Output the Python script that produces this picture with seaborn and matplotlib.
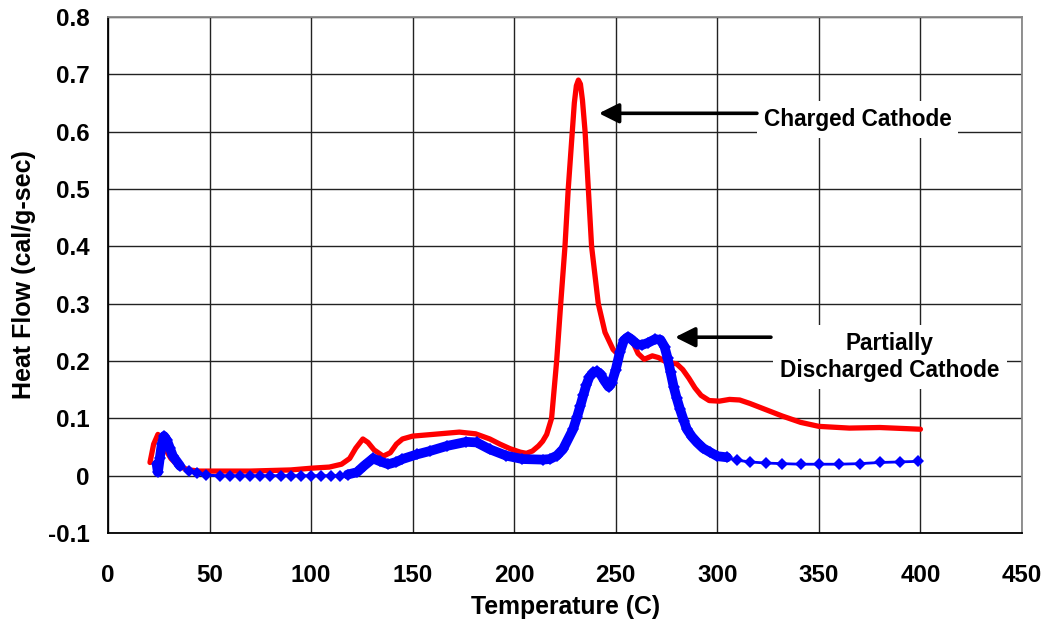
import numpy as np
import pandas as pd
import matplotlib
matplotlib.use("Agg")
import matplotlib.pyplot as plt
from matplotlib.ticker import MultipleLocator
import seaborn as sns

# ---- data ----
charged_temp = [20.7, 22.5, 24.6, 26.5, 28.5, 31, 35, 40, 45, 50, 60, 70, 80, 90, 100,
                109, 115, 119, 122, 125.5, 128, 131, 135.5, 139, 142, 145, 150, 160, 173,
                181, 188, 193, 198, 203, 206, 209, 212, 214, 216, 218.4, 220.9, 222.9, 225,
                226.6, 228.6, 229.6, 230.6, 231.6, 232.6, 233.6, 234.9, 236.5, 238.1, 241.4,
                244.7, 248.7, 251, 253.5, 256, 258.5, 261, 264, 268, 271, 275, 280, 283, 286,
                289, 292, 296, 301, 306, 311, 316, 324, 332, 341, 350, 365, 380, 400]
charged_flow = [0.023, 0.055, 0.072, 0.06, 0.045, 0.03, 0.016, 0.01, 0.008, 0.008, 0.008,
                0.008, 0.009, 0.01, 0.013, 0.015, 0.02, 0.03, 0.048, 0.064, 0.058, 0.045,
                0.034, 0.04, 0.055, 0.064, 0.069, 0.072, 0.076, 0.073, 0.064, 0.055, 0.047,
                0.041, 0.039, 0.043, 0.052, 0.06, 0.072, 0.1, 0.2, 0.3, 0.4, 0.5, 0.6, 0.65,
                0.68, 0.69, 0.683, 0.655, 0.6, 0.5, 0.4, 0.3, 0.25, 0.22, 0.212, 0.232,
                0.245, 0.232, 0.213, 0.203, 0.209, 0.206, 0.198, 0.195, 0.185, 0.17, 0.153,
                0.14, 0.131, 0.13, 0.133, 0.132, 0.126, 0.115, 0.104, 0.093, 0.086, 0.083,
                0.084, 0.081]

partial_temp = [24.0, 24.6, 25.5, 26.5, 27.6, 29, 30.5, 32, 35.5, 40, 44, 48.5, 55, 60, 65,
                70, 75, 80, 85, 90, 95, 100, 105, 110, 114, 118, 122.6, 126, 130.5, 134,
                138, 142, 145, 152, 158.5, 167, 176.5, 181.5, 188, 196, 204, 214, 217.6,
                221, 224, 229, 231, 232.5, 234, 235.5, 237, 239, 240.6, 242.5, 244.5, 246.5,
                248, 250, 252, 254, 256, 258, 260.5, 263, 266, 269.3, 272, 274, 275.5, 277,
                278.5, 280, 281.6, 283.5, 285, 287.5, 290, 293, 296.4, 300, 304.8, 309.7,
                316, 324, 332, 341, 350, 360, 370, 380, 390, 399]
partial_flow = [0.02, 0.006, 0.03, 0.055, 0.069, 0.062, 0.048, 0.034, 0.017, 0.008, 0.004,
                0.001, 0.0, 0.0, 0.0, 0.0, 0.0, 0.0, 0.0, 0.0, 0.0, 0.0, 0.0, 0.0, 0.0,
                0.002, 0.006, 0.017, 0.03, 0.025, 0.02, 0.024, 0.029, 0.037, 0.043, 0.052,
                0.059, 0.058, 0.046, 0.035, 0.029, 0.028, 0.029, 0.035, 0.046, 0.081, 0.103,
                0.121, 0.14, 0.158, 0.172, 0.18, 0.182, 0.177, 0.165, 0.155, 0.162, 0.185,
                0.215, 0.236, 0.242, 0.237, 0.229, 0.228, 0.232, 0.238, 0.237, 0.225, 0.205,
                0.18, 0.155, 0.135, 0.116, 0.096, 0.081, 0.068, 0.058, 0.048, 0.041, 0.034,
                0.032, 0.027, 0.024, 0.022, 0.021, 0.02, 0.02, 0.02, 0.021, 0.023, 0.024,
                0.025]

x_ticks = [0, 50, 100, 150, 200, 250, 300, 350, 400, 450]
y_ticks = [-0.1, 0, 0.1, 0.2, 0.3, 0.4, 0.5, 0.6, 0.7, 0.8]
x_ticklabels = ["0", "50", "100", "150", "200", "250", "300", "350", "400", "450"]
y_ticklabels = ["-0.1", "0", "0.1", "0.2", "0.3", "0.4", "0.5", "0.6", "0.7", "0.8"]

label_charged = "Charged Cathode"
label_partial = "Partially\nDischarged Cathode"

# ---- figure ----
sns.set_style("white")
plt.rcParams["font.family"] = ["Liberation Sans", "DejaVu Sans"]
plt.rcParams["font.weight"] = "bold"
plt.rcParams["text.color"] = "black"
plt.rcParams["axes.labelcolor"] = "black"
plt.rcParams["xtick.color"] = "black"
plt.rcParams["ytick.color"] = "black"

fig = plt.figure(figsize=(10.45, 6.29), dpi=100)
ax = fig.add_axes([0.1033, 0.1526, 0.8747, 0.8204])

df_c = pd.DataFrame({"T": charged_temp, "Q": charged_flow})
df_p = pd.DataFrame({"T": partial_temp, "Q": partial_flow})
thick = ((df_p["T"] <= 36) | ((df_p["T"] >= 116) & (df_p["T"] <= 305)))
df_pt = df_p[thick].copy()
df_pt["seg"] = (df_pt["T"] > 100).astype(int)

sns.lineplot(data=df_p, x="T", y="Q", ax=ax, color="#0000FF", lw=2.0, marker="D",
             markersize=6.5, markeredgewidth=0, sort=False, zorder=4)
sns.lineplot(data=df_pt, x="T", y="Q", units="seg", estimator=None, ax=ax, color="#0000FF",
             lw=7.0, sort=False, zorder=4, solid_capstyle="round", solid_joinstyle="round")
sns.lineplot(data=df_c, x="T", y="Q", ax=ax, color="#FF0000", lw=3.8, sort=False, zorder=3,
             solid_joinstyle="round", solid_capstyle="round")

ax.set_xlim(0, 450)
ax.set_ylim(-0.1, 0.8)
ax.set_xticks(x_ticks)
ax.set_xticklabels(x_ticklabels)
ax.set_yticks(y_ticks)
ax.set_yticklabels(y_ticklabels)
ax.xaxis.set_minor_locator(MultipleLocator(10))
ax.yaxis.set_minor_locator(MultipleLocator(0.02))
ax.tick_params(axis="both", which="both", direction="in", colors="black")
ax.tick_params(axis="x", which="major", length=0, pad=22, labelsize=17.4)
ax.tick_params(axis="y", which="major", length=0, pad=13, labelsize=17.4)
ax.tick_params(axis="both", which="minor", length=5, width=1)
for lab in ax.get_xticklabels() + ax.get_yticklabels():
    lab.set_fontweight("bold")

ax.grid(True, which="major", color="#222222", lw=1.0, zorder=0)
ax.set_axisbelow(True)

for s in ["left", "bottom"]:
    ax.spines[s].set_color("black")
    ax.spines[s].set_linewidth(1.3)
for s in ["top", "right"]:
    ax.spines[s].set_color("#888888")
    ax.spines[s].set_linewidth(1.3)

ax.set_xlabel("Temperature (C)", fontsize=17.8, fontweight="bold")
ax.set_ylabel("Heat Flow (cal/g-sec)", fontsize=18.0, fontweight="bold")
ax.xaxis.set_label_coords(0.501, -0.121)
ax.yaxis.set_label_coords(-0.079, 0.5)

# annotations
ax.text(369, 0.622, label_charged, ha="center", va="center", fontsize=16.3,
        fontweight="bold", zorder=6,
        bbox=dict(facecolor="white", edgecolor="none", pad=5))
ax.text(385, 0.207, label_partial, ha="center", va="center", fontsize=16.3,
        fontweight="bold", zorder=6, linespacing=1.2,
        bbox=dict(facecolor="white", edgecolor="none", pad=5))

arrow = dict(arrowstyle="-|>", lw=2.6, color="black", mutation_scale=30,
             shrinkA=0, shrinkB=0)
ax.annotate("", xy=(241.7, 0.632), xytext=(319.5, 0.632), arrowprops=arrow, zorder=7)
ax.annotate("", xy=(279.2, 0.2415), xytext=(326.4, 0.2415), arrowprops=arrow, zorder=7)

fig.savefig("out.png", dpi=100)
